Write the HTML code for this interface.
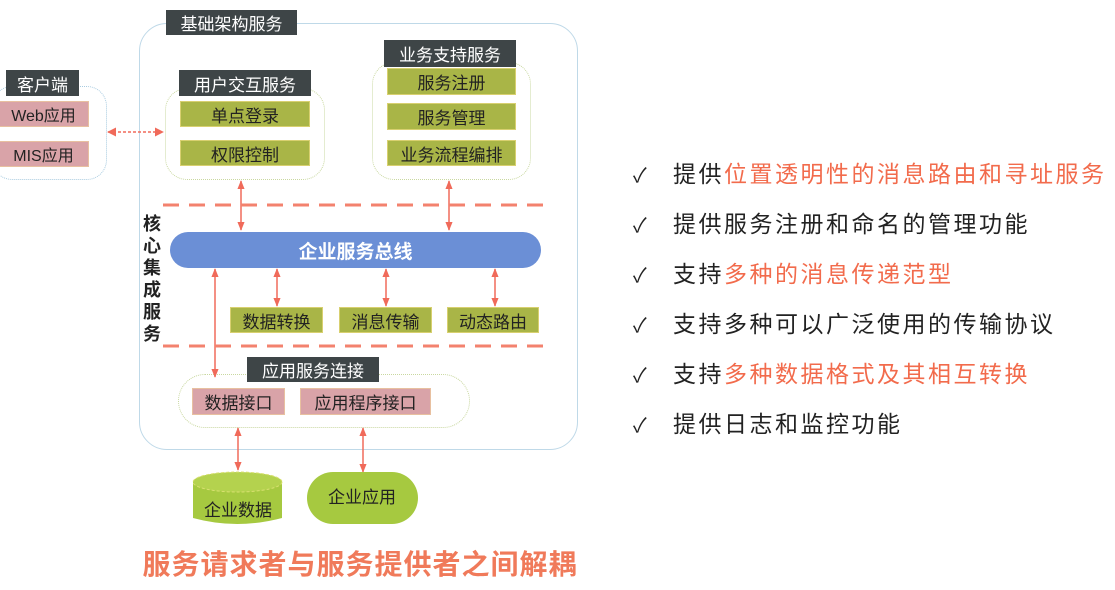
<!DOCTYPE html>
<html><head><meta charset="utf-8"><style>
body{margin:0;width:1115px;height:590px;background:#fff;position:relative;overflow:hidden;font-family:"Liberation Sans","Noto Sans CJK SC",sans-serif}
.a{position:absolute;box-sizing:border-box;display:flex;align-items:center;justify-content:center;white-space:nowrap}
.tab{background:#3e4547;color:#fff;font-size:17px}
.ol{background:#a9b547;color:#222;font-size:17px;border:1px solid #d8d070}
.pk{background:#d9a3a8;color:#222;font-size:16px;border:1px solid #e8c0a0}
.box{border:1.5px dotted #c9d8a0;border-radius:22px}
.li{position:absolute;left:633px;font-size:23px;color:#222;letter-spacing:2.5px;white-space:nowrap}
.li b{font-weight:normal;color:#f26b4c}
.li i{font-style:normal;display:inline-block;width:40px;font-size:20px}
</style></head><body>
<div class="a" style="left:139px;top:23px;width:439px;height:427px;border:1.5px solid #bfd9e8;border-radius:28px"></div>
<div class="a" style="left:-8px;top:86px;width:115px;height:94px;border:1.5px dotted #a8cbe0;border-radius:20px"></div>
<div class="a box" style="left:165px;top:88px;width:160px;height:92px"></div>
<div class="a box" style="left:372px;top:62px;width:159px;height:118px"></div>
<div class="a box" style="left:178px;top:374px;width:292px;height:54px;border-radius:27px"></div>

<div class="a tab" style="left:166px;top:10px;width:131px;height:25px">基础架构服务</div>
<div class="a tab" style="left:6px;top:70px;width:73px;height:26px">客户端</div>
<div class="a pk" style="left:-2px;top:101px;width:91px;height:26px">Web应用</div>
<div class="a pk" style="left:-2px;top:141px;width:91px;height:26px">MIS应用</div>
<div class="a tab" style="left:179px;top:70px;width:132px;height:26px">用户交互服务</div>
<div class="a ol" style="left:180px;top:101px;width:130px;height:26px">单点登录</div>
<div class="a ol" style="left:180px;top:140px;width:130px;height:26px">权限控制</div>
<div class="a tab" style="left:384px;top:40px;width:132px;height:27px">业务支持服务</div>
<div class="a ol" style="left:387px;top:68px;width:129px;height:27px">服务注册</div>
<div class="a ol" style="left:387px;top:103px;width:129px;height:27px">服务管理</div>
<div class="a ol" style="left:387px;top:140px;width:129px;height:26px">业务流程编排</div>
<div class="a" style="left:170px;top:232px;width:371px;height:36px;background:#6b8fd6;border-radius:18px;color:#fff;font-weight:bold;font-size:19px">企业服务总线</div>
<div class="a" style="left:141px;top:210px;width:22px;height:138px;flex-direction:column;font-weight:bold;font-size:18px;line-height:22px;color:#222">核<br>心<br>集<br>成<br>服<br>务</div>
<div class="a ol" style="left:230px;top:307px;width:93px;height:26px">数据转换</div>
<div class="a ol" style="left:339px;top:307px;width:93px;height:26px">消息传输</div>
<div class="a ol" style="left:447px;top:307px;width:92px;height:26px">动态路由</div>
<div class="a tab" style="left:247px;top:357px;width:132px;height:25px">应用服务连接</div>
<div class="a pk" style="left:192px;top:388px;width:93px;height:27px;font-size:17px">数据接口</div>
<div class="a pk" style="left:300px;top:388px;width:131px;height:27px;font-size:17px">应用程序接口</div>

<svg style="position:absolute;left:0;top:0" width="1115" height="590">
<defs><marker id="m" viewBox="0 0 10 10" refX="9" refY="5" markerWidth="6" markerHeight="6" orient="auto-start-reverse"><path d="M0,0L10,5L0,10z" fill="#f06a5a"/></marker>
<marker id="s" viewBox="0 0 10 10" refX="9" refY="5" markerWidth="6" markerHeight="6" orient="auto-start-reverse"><path d="M0,1L10,5L0,9z" fill="#f06a5a"/></marker></defs>
<g stroke="#f06a5a" stroke-width="1.5" fill="none">
<line x1="108" y1="132" x2="163" y2="132" stroke-dasharray="3 2" marker-start="url(#m)" marker-end="url(#m)"/>
<line x1="241" y1="181" x2="241" y2="230" marker-start="url(#s)" marker-end="url(#s)"/>
<line x1="449" y1="181" x2="449" y2="230" marker-start="url(#s)" marker-end="url(#s)"/>
<line x1="215" y1="269" x2="215" y2="377" marker-start="url(#s)" marker-end="url(#s)"/>
<line x1="277" y1="269" x2="277" y2="306" marker-start="url(#s)" marker-end="url(#s)"/>
<line x1="386" y1="269" x2="386" y2="306" marker-start="url(#s)" marker-end="url(#s)"/>
<line x1="495" y1="269" x2="495" y2="306" marker-start="url(#s)" marker-end="url(#s)"/>
<line x1="238" y1="428" x2="238" y2="470" marker-start="url(#s)" marker-end="url(#s)"/>
<line x1="363" y1="428" x2="363" y2="472" marker-start="url(#s)" marker-end="url(#s)"/>
</g>
<line x1="163" y1="205" x2="548" y2="205" stroke="#f3826e" stroke-width="3" stroke-dasharray="16 10"/>
<line x1="163" y1="346" x2="546" y2="346" stroke="#f3826e" stroke-width="3" stroke-dasharray="16 10"/>
<path d="M193,482 L193,518 Q237,530 282,518 L282,482 Z" fill="#a6c940"/>
<ellipse cx="237.5" cy="482" rx="44.5" ry="10" fill="#b4d24e" stroke="#d8e070" stroke-width="1" stroke-dasharray="3 2"/>
<rect x="307" y="472" width="111" height="52" rx="26" fill="#a6c940"/>
<text x="238" y="516" font-size="17" text-anchor="middle" fill="#222" font-family="Liberation Sans,Noto Sans CJK SC,sans-serif">企业数据</text>
<text x="362" y="503" font-size="17" text-anchor="middle" fill="#222" font-family="Liberation Sans,Noto Sans CJK SC,sans-serif">企业应用</text>
</svg>

<div class="a" style="left:130px;top:544px;width:460px;height:38px;color:#f07a5a;font-size:28px;font-weight:bold;letter-spacing:1px">服务请求者与服务提供者之间解耦</div>

<div class="li" style="top:155px"><i>✓</i>提供<b>位置透明性的消息路由和寻址服务</b></div>
<div class="li" style="top:205px"><i>✓</i>提供服务注册和命名的管理功能</div>
<div class="li" style="top:255px"><i>✓</i>支持<b>多种的消息传递范型</b></div>
<div class="li" style="top:305px"><i>✓</i>支持多种可以广泛使用的传输协议</div>
<div class="li" style="top:355px"><i>✓</i>支持<b>多种数据格式及其相互转换</b></div>
<div class="li" style="top:405px"><i>✓</i>提供日志和监控功能</div>
</body></html>
